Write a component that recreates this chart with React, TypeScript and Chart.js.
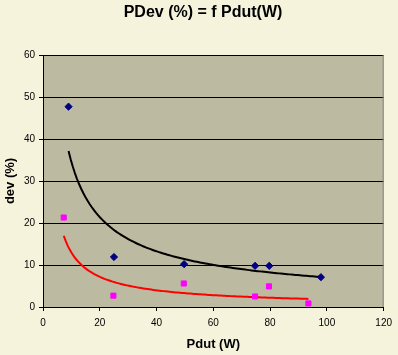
import React, { useEffect, useRef } from 'react';
import { Chart, registerables } from 'chart.js';

Chart.register(...registerables);

// Series 1 (navy diamonds)
const series1X = [9, 25, 49.7, 74.7, 79.7, 97.9];
const series1Y = [47.7, 11.9, 10.2, 9.8, 9.8, 7.1];
// Series 2 (magenta squares)
const series2X = [7.3, 24.8, 49.6, 74.7, 79.6, 93.5];
const series2Y = [21.3, 2.7, 5.6, 2.5, 4.9, 0.85];

const xMin = 0;
const xMax = 120;
const xStep = 20;
const yMin = 0;
const yMax = 60;
const yStep = 10;

const titleText = 'PDev (%) = f Pdut(W)';
const xTitle = 'Pdut (W)';
const yTitle = 'dev (%)';

const FONT = '"Liberation Sans", Arial, sans-serif';
const CHART_BG = '#F5F3DC';
const PLOT_BG = '#BCBAA0';

// Power trendline y = a * x^b (least squares on logs, like Excel)
function powerFit(xs: number[], ys: number[]) {
  const lx = xs.map(Math.log);
  const ly = ys.map(Math.log);
  const n = xs.length;
  const mx = lx.reduce((s, v) => s + v, 0) / n;
  const my = ly.reduce((s, v) => s + v, 0) / n;
  let sxy = 0;
  let sxx = 0;
  for (let i = 0; i < n; i++) {
    sxy += (lx[i] - mx) * (ly[i] - my);
    sxx += (lx[i] - mx) * (lx[i] - mx);
  }
  const b = sxy / sxx;
  const a = Math.exp(my - b * mx);
  return { a, b };
}

function trendPoints(xs: number[], ys: number[]) {
  const { a, b } = powerFit(xs, ys);
  const lo = Math.min(...xs);
  const hi = Math.max(...xs);
  const pts: { x: number; y: number }[] = [];
  const steps = 120;
  for (let i = 0; i <= steps; i++) {
    const x = lo + ((hi - lo) * i) / steps;
    pts.push({ x, y: a * Math.pow(x, b) });
  }
  return pts;
}

const toPts = (xs: number[], ys: number[]) => xs.map((x, i) => ({ x, y: ys[i] }));

const bgPlugin = {
  id: 'plotBg',
  beforeDraw(chart: any) {
    const { ctx, chartArea } = chart;
    ctx.save();
    ctx.fillStyle = PLOT_BG;
    ctx.fillRect(chartArea.left, chartArea.top, chartArea.right - chartArea.left, chartArea.bottom - chartArea.top);
    ctx.restore();
  },
  beforeDatasetsDraw(chart: any) {
    const { ctx, chartArea } = chart;
    ctx.save();
    ctx.strokeStyle = '#808080';
    ctx.lineWidth = 1;
    ctx.beginPath();
    ctx.moveTo(chartArea.right - 0.5, chartArea.top);
    ctx.lineTo(chartArea.right - 0.5, chartArea.bottom);
    ctx.stroke();
    ctx.restore();
  },
  afterDraw(chart: any) {
    const { ctx } = chart;
    ctx.save();
    ctx.fillStyle = '#000';
    ctx.font = `bold 16px ${FONT}`;
    ctx.textAlign = 'center';
    ctx.textBaseline = 'alphabetic';
    ctx.fillText(titleText, 203, 17);
    ctx.restore();
  },
};

export default function App() {
  const ref = useRef<HTMLCanvasElement | null>(null);

  useEffect(() => {
    if (!ref.current) return;
    const chart = new Chart(ref.current, {
      type: 'scatter',
      data: {
        datasets: [
          {
            label: 'Series1',
            data: toPts(series1X, series1Y),
            pointStyle: 'rectRot',
            pointRadius: 3.6,
            backgroundColor: '#000080',
            borderColor: '#000080',
            borderWidth: 1,
            order: 0,
          },
          {
            label: 'Series2',
            data: toPts(series2X, series2Y),
            pointStyle: 'rect',
            pointRadius: 3.6,
            backgroundColor: '#FF00FF',
            borderColor: '#FF00FF',
            borderWidth: 1,
            order: 0,
          },
          {
            label: 'Trend1',
            data: trendPoints(series1X, series1Y),
            showLine: true,
            pointRadius: 0,
            borderColor: '#000000',
            borderWidth: 2,
            tension: 0,
            order: 1,
          },
          {
            label: 'Trend2',
            data: trendPoints(series2X, series2Y),
            showLine: true,
            pointRadius: 0,
            borderColor: '#FF0000',
            borderWidth: 2,
            tension: 0,
            order: 1,
          },
        ],
      },
      options: {
        animation: false,
        responsive: false,
        maintainAspectRatio: false,
        layout: { padding: { top: 55, left: 0, right: 11, bottom: 0 } },
        plugins: {
          legend: { display: false },
          tooltip: { enabled: false },
          title: { display: false },
        },
        scales: {
          x: {
            type: 'linear',
            min: xMin,
            max: xMax,
            afterFit: (s: any) => {
              s.height = 48;
            },
            ticks: {
              stepSize: xStep,
              color: '#000',
              font: { family: FONT, size: 10 },
              padding: 6,
              maxRotation: 0,
            },
            grid: {
              drawOnChartArea: false,
              drawTicks: true,
              tickLength: 4,
              color: '#000',
            },
            border: { display: true, color: '#000', width: 1 },
            title: {
              display: true,
              text: xTitle,
              color: '#000',
              font: { family: FONT, size: 13, weight: 'bold' },
              padding: { top: 0, bottom: 3 },
            },
          },
          y: {
            type: 'linear',
            min: yMin,
            max: yMax,
            afterFit: (s: any) => {
              s.width = 43;
            },
            ticks: {
              stepSize: yStep,
              color: '#000',
              font: { family: FONT, size: 10 },
              padding: 4,
            },
            grid: {
              drawOnChartArea: true,
              drawTicks: true,
              tickLength: 4,
              color: '#000',
            },
            border: { display: true, color: '#000', width: 1 },
            title: {
              display: true,
              text: yTitle,
              color: '#000',
              font: { family: FONT, size: 13, weight: 'bold' },
              padding: { top: 3, bottom: 0 },
            },
          },
        },
      },
      plugins: [bgPlugin],
    });
    return () => chart.destroy();
  }, []);

  return (
    <div
      style={{
        position: 'fixed',
        left: 0,
        top: 0,
        width: 398,
        height: 355,
        background: CHART_BG,
      }}
    >
      <canvas ref={ref} width={398} height={355} style={{ display: 'block' }} />
    </div>
  );
}
